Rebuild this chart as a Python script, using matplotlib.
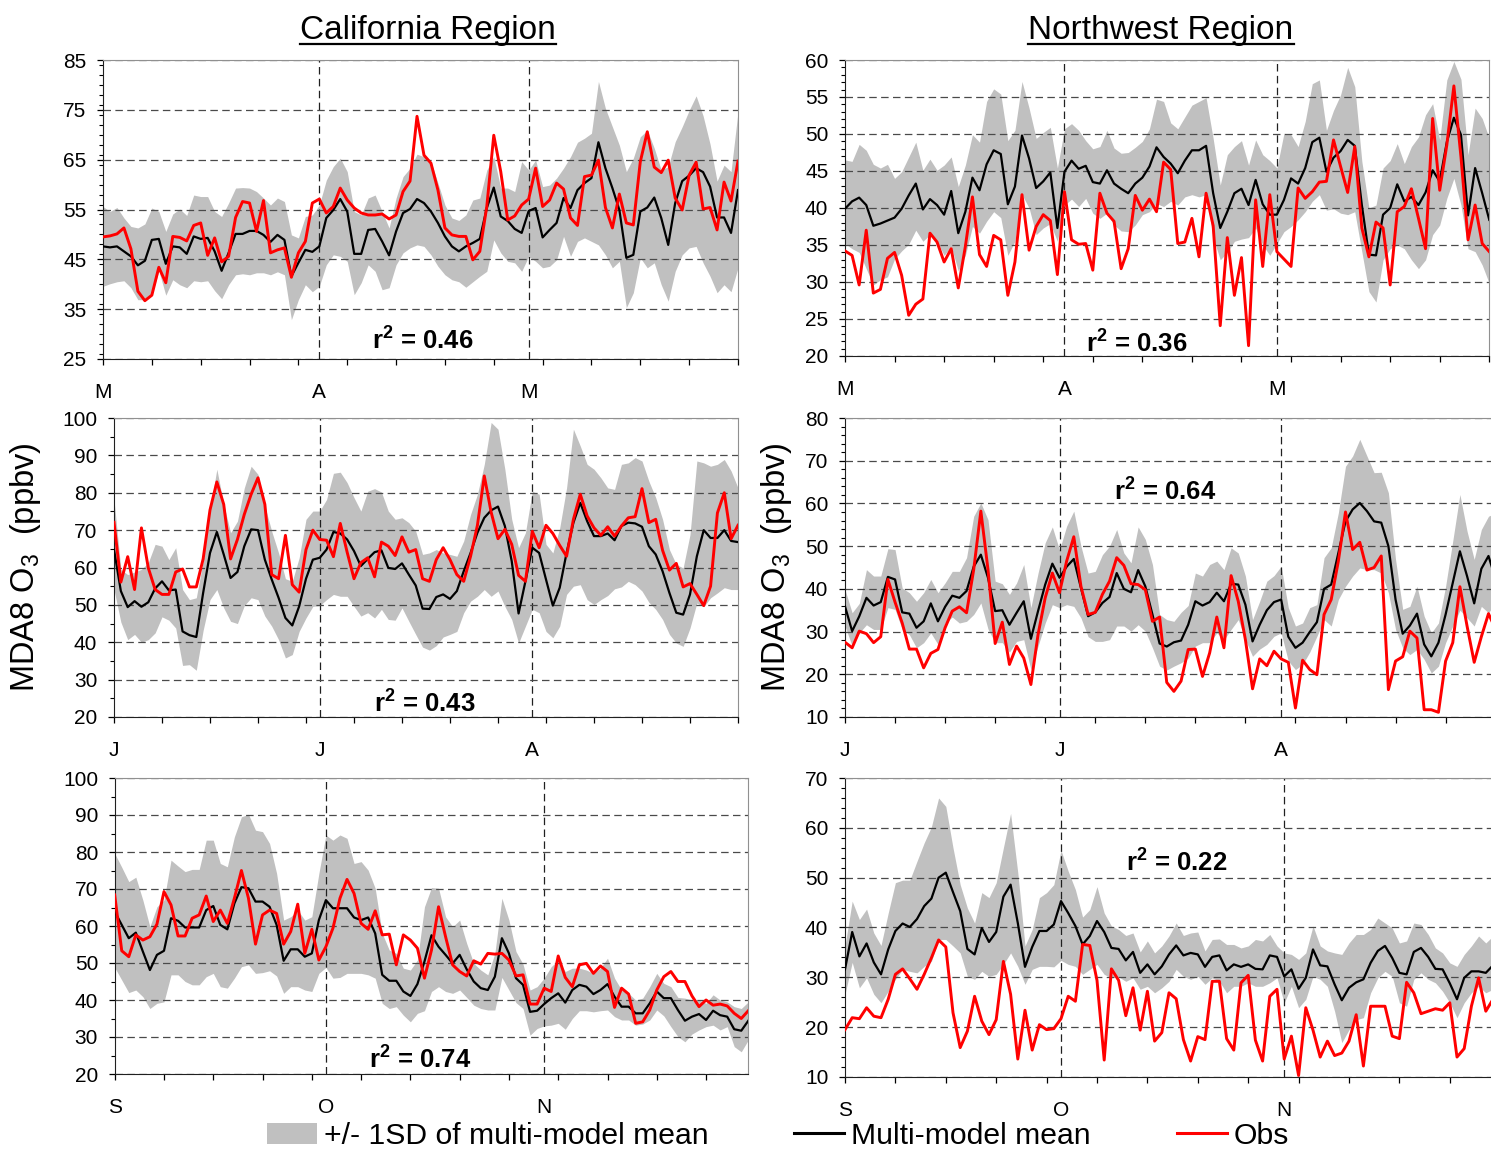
import matplotlib.pyplot as plt
import numpy as np
from matplotlib.lines import Line2D
from matplotlib.patches import Patch
from matplotlib.ticker import MultipleLocator

# daily MDA8 ozone (ppbv), multi-model mean, mean -/+ 1SD and observations

# California, Mar-May
ca_mam_mean = [47.6, 47.4, 47.6, 46.6, 45.6, 43.8, 44.7, 48.9, 49.1, 44.1, 47.6, 47.4, 46.1, 49.6, 49.1, 49.3,
               46.6, 42.7, 46.3, 50.1, 50.1, 50.7, 50.7, 49.9, 48.5, 49.9, 48.9, 41.6, 44.3, 46.9, 46.5, 47.6,
               53.3, 54.9, 57.1, 54.6, 46.1, 46.1, 50.9, 51.1, 48.6, 45.8, 50.6, 54.3, 55.1, 57.1, 56.3,
               54.6, 52.3, 49.6, 47.6, 46.6, 47.6, 48.3, 49.1, 55.3, 59.4, 53.6, 52.7, 51.1, 50.3, 54.7, 55.3,
               49.4, 50.9, 52.3, 57.3, 55.3, 58.9, 60.3, 61.3, 68.5, 63.3, 59.3, 54.9, 45.3, 45.9, 54.6, 55.4,
               57.4, 53.3, 47.9, 56.3, 60.7, 61.8, 63.3, 62.5, 59.6, 53.4, 53.4, 50.3, 58.9]
ca_mam_lo = [39.6, 40.1, 40.5, 40.7, 39.3, 36.9, 36.9, 37.9, 42.7, 37.8, 40.9, 39.9, 39.3, 40.7, 40.5, 40.7,
             38.7, 37.1, 39.9, 41.9, 42.1, 41.9, 42.3, 42.3, 41.9, 42.5, 41.9, 32.9, 36.9, 39.9, 38.5, 39.6,
             43.9, 45.9, 45.6, 44.6, 37.9, 40.3, 43.9, 42.6, 38.9, 39.3, 43.9, 46.3, 47.3, 47.9, 47.6,
             45.9, 43.6, 41.9, 40.9, 40.5, 39.4, 40.5, 41.6, 42.6, 48.9, 46.3, 44.6, 44.3, 42.6, 45.6, 44.6,
             43.3, 43.6, 44.9, 49.6, 45.6, 48.6, 49.3, 48.6, 47.9, 45.9, 43.3, 44.6, 35.3, 38.3, 45.3, 43.3,
             44.3, 39.9, 36.6, 42.6, 45.9, 47.3, 47.6, 44.3, 41.6, 38.3, 39.9, 38.5, 43.3]
ca_mam_hi = [55.6, 54.6, 55.4, 53.3, 51.6, 51.3, 52.1, 55.3, 54.6, 50.6, 54.1, 55.1, 53.8, 57.9, 57.6, 57.6,
             54.6, 53.6, 56.3, 59.3, 59.4, 59.3, 58.6, 57.3, 55.9, 57.3, 56.6, 49.9, 49.3, 53.6, 53.9, 55.9,
             60.9, 63.6, 65.3, 62.6, 54.6, 53.9, 57.3, 57.9, 54.6, 51.3, 57.3, 61.6, 63.3, 66.1, 65.6,
             64.6, 60.3, 55.9, 53.3, 52.8, 53.9, 56.9, 57.3, 62.9, 65.6, 59.3, 59.3, 58.6, 64.6, 62.9, 64.9,
             59.6, 59.9, 61.3, 63.3, 65.6, 68.5, 69.3, 70.3, 80.7, 75.3, 71.6, 67.9, 62.6, 65.3, 69.6, 70.9,
             67.3, 62.9, 63.6, 68.6, 71.6, 74.9, 77.8, 73.8, 68.1, 60.7, 63.9, 62.6, 74.6]
ca_mam_obs = [49.5, 49.7, 50.1, 51.3, 47.1, 38.6, 36.7, 37.8, 43.4, 40.3, 49.6, 49.4, 48.7, 51.8, 52.3, 45.8,
              49.3, 44.5, 45.6, 53.4, 56.6, 56.3, 50.6, 56.8, 46.3, 46.9, 47.3, 41.4, 46.3, 48.6, 56.3, 57.1,
              54.3, 55.6, 59.3, 56.9, 55.3, 54.3, 53.9, 53.9, 54.1, 53.1, 53.9, 58.6, 60.7, 73.7, 65.9,
              64.3, 58.9, 51.3, 49.9, 49.6, 49.6, 44.9, 46.6, 55.6, 69.9, 62.6, 52.9, 53.7, 55.9, 57.1, 63.3,
              55.6, 56.9, 60.3, 59.1, 53.3, 51.8, 61.6, 61.9, 64.9, 55.4, 51.3, 58.1, 52.3, 51.9, 64.6, 70.6,
              63.5, 62.4, 64.9, 57.3, 54.9, 61.9, 64.5, 55.1, 55.4, 50.9, 60.5, 56.7, 64.7]

# Northwest, Mar-May
nw_mam_mean = [39.9, 40.9, 41.4, 40.4, 37.6, 37.9, 38.3, 38.7, 39.9, 41.7, 43.3, 39.8, 41.2, 40.4, 39.1, 42.3,
               36.6, 39.5, 44.1, 42.4, 45.9, 47.8, 47.3, 40.5, 42.9, 49.8, 46.7, 42.7, 43.6, 44.8, 37.3, 44.9,
               46.4, 45.3, 45.7, 43.5, 43.3, 45.1, 43.3, 42.6, 42.0, 43.3, 44.1, 45.6, 48.2, 46.9, 46.0,
               44.7, 46.4, 47.8, 47.8, 48.4, 42.0, 37.3, 39.5, 42.0, 42.6, 40.4, 43.8, 40.5, 39.1, 39.1, 41.1,
               44.0, 43.3, 45.4, 48.9, 49.5, 44.9, 46.8, 47.7, 49.2, 48.4, 40.4, 33.7, 33.6, 39.1, 40.0, 43.2,
               40.9, 41.5, 40.4, 42.1, 45.1, 43.6, 48.9, 52.2, 49.9, 39.0, 45.4, 42.0, 38.4]
nw_mam_lo = [35.2, 34.5, 34.0, 31.8, 29.6, 30.3, 30.7, 33.1, 34.2, 35.1, 37.0, 35.5, 36.4, 35.5, 33.6, 34.8,
             31.5, 33.6, 37.5, 36.6, 38.2, 39.5, 38.7, 33.6, 35.5, 41.8, 40.0, 36.4, 37.3, 37.9, 35.5, 40.4,
             41.2, 40.2, 41.3, 39.3, 38.6, 39.3, 37.7, 36.9, 36.8, 37.7, 39.1, 39.5, 40.6, 40.2, 40.9,
             40.4, 41.5, 41.8, 41.5, 41.8, 36.0, 33.0, 34.0, 35.5, 35.8, 36.0, 37.3, 35.0, 33.6, 35.2, 36.8,
             37.5, 38.4, 39.5, 40.9, 41.8, 39.7, 39.9, 39.3, 39.1, 39.5, 34.1, 28.7, 27.3, 33.0, 34.5, 35.0,
             34.5, 33.0, 31.8, 33.0, 36.4, 37.7, 41.3, 44.0, 40.4, 34.5, 34.1, 32.3, 29.8]
nw_mam_hi = [46.5, 46.3, 48.6, 47.8, 45.9, 45.4, 45.9, 44.0, 44.9, 46.9, 48.9, 45.1, 46.6, 45.1, 45.8, 46.9,
             42.9, 45.8, 49.9, 48.9, 54.4, 56.1, 55.4, 49.1, 50.5, 57.1, 53.5, 49.4, 50.2, 50.9, 45.4, 50.7,
             51.4, 50.5, 49.1, 48.0, 48.3, 50.5, 48.1, 47.4, 47.5, 48.2, 49.0, 50.7, 54.7, 54.4, 51.5,
             50.7, 52.3, 53.9, 54.4, 54.9, 49.4, 43.1, 47.2, 48.3, 49.1, 45.8, 49.2, 47.2, 46.4, 45.4, 50.1,
             49.9, 48.3, 51.7, 56.8, 57.3, 50.5, 53.2, 55.3, 59.0, 56.4, 46.3, 40.0, 40.4, 45.4, 46.4, 48.7,
             46.0, 48.3, 49.6, 52.6, 54.1, 49.2, 57.3, 59.8, 57.4, 47.2, 53.5, 52.1, 49.4]
nw_mam_obs = [34.2, 33.6, 29.6, 37.0, 28.5, 29.0, 33.2, 34.0, 30.9, 25.5, 27.0, 27.7, 36.6, 35.4, 32.7, 34.5,
              29.2, 34.8, 41.5, 33.7, 32.1, 36.3, 35.7, 28.2, 32.7, 41.8, 34.3, 37.5, 39.1, 38.3, 31.0, 42.2,
              35.7, 35.1, 35.2, 31.6, 42.0, 39.3, 38.2, 31.8, 34.5, 41.7, 39.7, 41.2, 39.5, 46.2, 45.2,
              35.2, 35.4, 38.6, 33.4, 42.0, 37.6, 24.1, 36.0, 28.2, 33.3, 21.4, 41.1, 32.1, 41.8, 34.1, 33.1,
              32.1, 42.7, 41.3, 42.2, 43.5, 43.6, 49.2, 45.6, 42.1, 48.3, 37.3, 33.4, 38.1, 37.3, 29.6, 39.5,
              40.2, 42.6, 38.6, 34.5, 52.1, 42.4, 48.5, 56.5, 46.9, 35.7, 40.4, 35.2, 34.1]

# California, Jun-Aug
ca_jja_mean = [64.8, 53.7, 49.4, 51.0, 49.5, 50.7, 54.4, 56.3, 53.9, 54.1, 42.9, 41.9, 41.4, 53.2, 63.9, 69.5,
               63.5, 57.2, 58.8, 65.7, 70.2, 70.0, 62.1, 56.8, 51.9, 46.5, 44.5, 49.6, 57.0, 62.1, 62.6, 64.8,
               69.5, 69.1, 67.5, 64.4, 60.4, 62.3, 64.1, 64.6, 59.9, 59.6, 61.1, 58.1, 55.2, 49.0,
               48.9, 52.1, 52.8, 51.6, 53.7, 59.0, 63.9, 69.3, 73.3, 75.3, 76.3, 71.1, 61.7, 47.7, 56.3, 65.3,
               63.9, 56.8, 49.8, 54.6, 63.9, 72.0, 77.3, 72.4, 68.4, 68.4, 69.1, 67.3, 71.1, 72.0, 71.8, 70.9,
               65.7, 63.5, 59.0, 53.2, 47.9, 47.4, 52.8, 63.0, 70.0, 67.9, 67.9, 70.0, 67.1, 66.8]
ca_jja_lo = [54.1, 45.4, 40.7, 42.1, 40.0, 40.7, 42.5, 46.8, 45.9, 43.8, 33.8, 34.0, 32.5, 43.2, 51.4, 54.1,
             49.2, 45.6, 45.0, 49.8, 51.9, 51.4, 47.0, 44.3, 40.7, 35.8, 36.7, 42.9, 46.5, 49.6, 49.8, 51.4,
             52.8, 52.3, 52.3, 49.6, 47.0, 47.9, 46.5, 48.8, 46.1, 45.9, 49.2, 45.6, 42.1, 38.7,
             37.9, 39.1, 41.4, 42.1, 42.9, 47.9, 51.0, 52.3, 54.1, 52.3, 53.7, 49.6, 46.1, 39.8, 44.3, 48.8,
             47.9, 42.9, 41.2, 44.3, 52.8, 55.0, 55.4, 51.4, 50.1, 51.4, 52.5, 54.3, 54.8, 56.3, 55.4, 53.7,
             50.7, 48.8, 46.1, 42.1, 39.8, 38.9, 43.8, 50.5, 49.5, 51.9, 53.2, 54.6, 54.1, 54.1]
ca_jja_hi = [78.2, 59.5, 58.1, 58.8, 59.5, 61.3, 66.2, 65.7, 62.1, 65.3, 54.1, 51.4, 51.9, 61.7, 75.5, 86.3,
             76.9, 69.3, 72.4, 81.3, 87.1, 84.9, 76.4, 69.7, 63.9, 57.0, 56.3, 62.6, 72.9, 75.1, 75.1, 78.2,
             85.2, 85.5, 82.7, 78.7, 75.1, 80.4, 81.1, 80.2, 75.1, 72.9, 73.3, 72.0, 69.7, 63.5,
             63.9, 64.8, 63.9, 63.5, 63.0, 67.1, 74.2, 79.6, 87.6, 98.8, 97.0, 86.3, 72.9, 65.3, 69.3, 80.4,
             79.6, 66.2, 63.9, 70.6, 81.3, 97.0, 92.5, 87.6, 86.3, 84.0, 81.3, 80.9, 87.6, 88.0, 89.4, 88.5,
             83.1, 78.7, 72.9, 64.8, 60.8, 59.9, 68.8, 88.5, 88.0, 87.1, 87.6, 88.9, 85.8, 81.3]
ca_jja_obs = [72.1, 56.1, 62.9, 54.1, 70.6, 59.9, 54.1, 52.8, 52.8, 58.8, 59.6, 54.8, 54.8, 62.3, 75.4, 82.9,
              76.9, 62.3, 67.5, 74.2, 79.6, 84.0, 76.9, 58.1, 57.0, 68.6, 55.4, 53.4, 64.8, 70.0, 67.5, 67.3,
              62.9, 71.8, 64.1, 57.0, 61.3, 62.6, 57.5, 66.8, 65.7, 63.2, 68.2, 64.1, 64.8, 57.0,
              56.3, 62.1, 65.3, 62.1, 58.1, 56.3, 63.0, 71.3, 84.5, 74.8, 67.7, 70.2, 66.2, 57.9, 56.3, 69.7,
              65.3, 71.3, 69.1, 65.9, 63.0, 72.9, 79.6, 73.8, 70.6, 68.6, 70.9, 68.4, 71.1, 73.3, 73.6, 81.1,
              72.0, 72.9, 64.6, 59.3, 61.1, 54.8, 55.7, 52.8, 49.8, 55.0, 74.6, 80.0, 67.7, 71.3]

# Northwest, Jun-Aug
nw_jja_mean = [35.9, 30.1, 33.6, 37.9, 36.1, 36.9, 42.8, 42.2, 34.5, 34.2, 30.9, 32.4, 36.6, 32.4, 35.8, 38.4,
               37.9, 39.5, 45.2, 48.0, 42.6, 34.8, 35.0, 31.6, 34.4, 37.1, 28.3, 34.8, 41.0, 45.9, 42.6, 45.2,
               47.0, 40.2, 33.6, 34.5, 36.7, 38.1, 43.7, 40.0, 39.2, 44.4, 40.6, 34.0, 27.2, 26.5,
               27.5, 27.9, 31.6, 37.1, 36.1, 36.9, 39.1, 37.1, 41.2, 41.0, 36.3, 27.7, 31.6, 35.0, 36.9, 37.5,
               28.8, 26.2, 27.4, 29.9, 32.2, 40.0, 41.0, 48.4, 55.8, 58.6, 60.1, 58.2, 55.8, 55.5, 50.0, 37.5,
               29.5, 31.4, 34.2, 27.0, 24.2, 27.4, 34.0, 41.4, 48.8, 43.0, 36.6, 44.7, 47.7, 42.2]
nw_jja_lo = [31.3, 26.6, 29.7, 31.6, 30.5, 30.5, 35.6, 35.2, 30.5, 29.3, 26.2, 27.4, 29.7, 27.0, 32.0, 33.4,
             32.0, 32.4, 34.0, 36.7, 30.6, 27.4, 27.4, 25.2, 27.7, 28.1, 21.1, 26.6, 32.0, 36.3, 35.6, 36.3,
             35.9, 33.2, 28.8, 27.7, 27.7, 28.1, 31.3, 31.3, 30.1, 31.6, 30.1, 26.2, 21.9, 21.0,
             21.9, 22.7, 23.8, 26.6, 27.4, 27.4, 29.7, 28.1, 30.5, 32.8, 28.1, 24.2, 25.9, 27.0, 28.9, 29.7,
             23.1, 21.1, 22.3, 25.2, 28.9, 32.8, 31.3, 37.5, 40.6, 43.0, 44.9, 44.5, 44.5, 43.7, 39.1, 30.5,
             26.2, 24.6, 25.8, 23.5, 20.3, 21.9, 27.4, 31.3, 35.0, 33.2, 31.3, 35.9, 34.4, 36.7]
nw_jja_hi = [39.8, 34.4, 36.6, 44.5, 43.0, 43.0, 49.4, 49.2, 40.2, 39.1, 37.1, 39.1, 42.2, 39.1, 41.4, 44.1,
             44.1, 47.3, 57.0, 60.1, 56.2, 41.8, 41.2, 38.7, 41.4, 45.7, 35.6, 43.7, 50.8, 54.5, 49.1, 54.7,
             58.2, 50.0, 43.7, 44.1, 48.0, 50.0, 53.9, 48.4, 46.1, 54.5, 51.6, 45.7, 34.0, 32.8,
             32.4, 34.5, 36.1, 43.7, 43.0, 45.7, 46.5, 44.5, 49.6, 48.4, 43.0, 32.8, 37.1, 41.8, 43.1, 45.3,
             35.6, 31.3, 32.0, 35.6, 36.3, 47.3, 49.6, 57.8, 68.7, 71.1, 75.0, 71.1, 67.2, 67.3, 62.5, 46.9,
             35.2, 35.9, 40.6, 33.6, 29.7, 32.0, 40.6, 51.2, 62.1, 53.5, 46.9, 53.9, 57.0, 57.8]
nw_jja_obs = [27.5, 26.2, 30.1, 29.5, 27.4, 28.8, 42.2, 36.9, 32.0, 25.9, 25.9, 21.5, 24.9, 25.8, 30.9, 34.8,
              35.8, 34.4, 44.5, 58.2, 44.5, 27.2, 32.2, 22.3, 26.6, 23.8, 17.6, 29.3, 37.9, 43.7, 39.1, 46.5,
              52.2, 40.6, 34.0, 34.5, 38.7, 41.8, 47.3, 45.5, 41.2, 41.0, 39.8, 32.4, 33.4, 18.1,
              16.0, 18.4, 25.8, 25.9, 19.5, 25.0, 33.4, 26.2, 43.1, 37.1, 28.1, 16.6, 23.6, 22.0, 25.4, 23.6,
              22.8, 12.1, 23.3, 21.1, 19.9, 34.0, 37.5, 46.5, 58.0, 49.2, 50.9, 44.4, 45.0, 47.7, 16.4, 23.1,
              24.1, 30.1, 28.5, 11.7, 11.7, 11.1, 23.1, 27.4, 40.5, 31.3, 22.8, 28.8, 34.2, 30.5]

# California, Sep-Nov
ca_son_mean = [63.9, 60.3, 56.7, 58.2, 53.1, 48.1, 52.2, 53.3, 62.1, 61.4, 59.6, 59.6, 59.6, 64.3, 65.4, 60.3,
               59.1, 66.1, 70.5, 70.2, 66.6, 66.6, 65.2, 60.3, 50.6, 53.7, 53.7, 51.7, 52.6, 61.6, 67.0, 64.8,
               64.8, 64.8, 62.3, 61.6, 62.3, 58.0, 46.8, 45.2, 45.2, 42.3, 41.1, 44.3, 50.4, 57.5,
               54.4, 52.2, 49.9, 52.2, 48.3, 45.0, 43.2, 42.7, 46.3, 56.7, 52.6, 45.9, 44.1, 36.8, 37.1, 38.9,
               40.5, 41.8, 39.3, 42.7, 44.1, 43.6, 41.6, 42.7, 44.3, 40.9, 38.2, 38.2, 36.4, 36.4, 39.1, 42.3,
               40.5, 40.5, 37.3, 34.4, 35.5, 36.2, 34.6, 37.1, 35.9, 35.5, 32.1, 31.7, 34.4]
ca_son_lo = [48.8, 45.4, 42.0, 42.7, 40.9, 37.7, 39.1, 39.5, 46.8, 46.8, 45.0, 44.1, 44.1, 46.3, 47.2, 43.6,
             43.2, 45.9, 49.0, 49.5, 47.2, 47.4, 47.9, 46.5, 41.8, 43.6, 43.6, 42.7, 42.3, 47.2, 48.8, 45.9,
             46.1, 47.2, 47.2, 47.2, 46.8, 45.9, 39.1, 37.7, 38.2, 35.9, 34.1, 36.4, 37.1, 42.3,
             43.6, 42.3, 41.8, 42.7, 40.7, 38.6, 37.7, 37.3, 37.3, 46.1, 42.7, 39.3, 37.7, 30.5, 32.3, 33.0,
             33.2, 33.7, 32.1, 35.0, 37.1, 37.1, 36.8, 37.1, 37.3, 35.5, 34.6, 34.6, 33.2, 33.5, 34.6, 37.3,
             35.7, 32.8, 30.1, 28.7, 30.8, 31.9, 32.8, 33.2, 31.9, 32.8, 27.4, 26.0, 29.2]
ca_son_hi = [79.6, 75.9, 72.0, 73.2, 67.0, 59.8, 65.2, 67.0, 77.8, 76.2, 74.7, 75.3, 75.3, 83.2, 83.2, 76.9,
             76.0, 84.1, 89.5, 90.2, 85.9, 85.5, 82.3, 74.2, 61.6, 62.5, 64.3, 61.6, 62.5, 74.2, 84.6, 83.2,
             84.6, 83.7, 76.9, 77.4, 75.1, 70.2, 58.0, 53.5, 52.6, 48.6, 48.1, 50.8, 65.2, 70.4,
             70.2, 62.5, 59.8, 61.6, 55.3, 49.9, 48.1, 46.8, 52.6, 67.5, 61.6, 53.1, 49.7, 42.7, 43.6, 45.9,
             49.0, 50.8, 47.7, 48.6, 48.6, 48.1, 47.2, 48.6, 51.3, 45.9, 42.7, 41.8, 40.0, 40.5, 43.6, 47.2,
             44.5, 43.6, 40.7, 40.5, 40.0, 40.0, 39.1, 41.4, 40.0, 39.5, 38.2, 37.7, 39.5]
ca_son_obs = [68.4, 53.3, 51.7, 57.6, 56.2, 57.1, 60.5, 69.3, 65.7, 57.3, 57.3, 62.1, 63.0, 68.1, 61.2, 64.3,
              60.7, 67.5, 75.0, 67.5, 55.1, 63.0, 64.3, 63.4, 55.1, 58.5, 65.9, 52.6, 59.1, 50.8, 54.4, 59.4,
              67.5, 72.6, 68.8, 60.7, 59.1, 64.1, 57.6, 57.8, 49.5, 57.6, 56.2, 54.0, 45.9, 53.5,
              65.2, 57.1, 49.5, 47.7, 46.5, 50.6, 49.7, 52.6, 52.4, 52.6, 50.8, 46.5, 46.8, 38.9, 38.9, 43.2,
              42.3, 51.9, 46.1, 43.6, 49.5, 49.9, 47.2, 49.2, 47.7, 38.0, 43.2, 41.6, 33.7, 34.1, 37.3, 42.7,
              46.3, 47.7, 45.0, 45.0, 41.1, 38.2, 40.0, 38.6, 38.9, 38.4, 36.4, 35.0, 37.1]

# Northwest, Sep-Nov
nw_son_mean = [31.6, 39.1, 34.2, 36.8, 33.0, 30.6, 35.6, 39.3, 40.8, 40.1, 41.7, 44.3, 45.8, 50.0, 51.0, 47.1,
               43.3, 35.7, 34.6, 39.9, 37.1, 39.1, 46.2, 48.6, 40.9, 32.1, 36.1, 39.3, 39.3, 40.6, 45.3, 42.9,
               40.3, 36.6, 38.3, 41.3, 39.1, 35.9, 35.7, 33.4, 35.1, 30.9, 32.6, 30.6, 32.2, 34.6,
               36.4, 34.4, 34.9, 34.6, 32.1, 34.1, 34.4, 31.4, 32.6, 32.1, 32.6, 31.7, 31.6, 34.4, 34.1, 30.2,
               31.6, 27.7, 29.9, 35.6, 32.4, 32.2, 28.6, 25.4, 27.9, 29.0, 29.6, 32.9, 35.3, 36.3, 33.9, 30.9,
               30.6, 35.1, 35.9, 34.1, 31.7, 31.6, 28.8, 25.6, 29.9, 31.2, 31.2, 30.9, 32.4]
nw_son_lo = [26.6, 33.0, 27.9, 29.9, 26.6, 24.9, 27.2, 29.6, 31.6, 31.2, 30.9, 32.2, 33.2, 37.6, 37.6, 36.3,
             34.9, 30.2, 29.6, 31.2, 30.2, 30.6, 32.6, 34.9, 32.2, 28.6, 31.6, 32.2, 32.2, 32.1, 33.4, 32.6,
             32.2, 30.6, 31.6, 32.6, 30.6, 29.9, 30.1, 29.2, 29.9, 27.6, 28.2, 26.9, 27.9, 29.2,
             31.6, 30.2, 29.6, 30.2, 28.6, 29.9, 29.2, 26.9, 28.2, 28.2, 28.9, 28.2, 28.2, 28.9, 29.9, 24.9,
             28.2, 23.9, 25.6, 30.2, 29.6, 28.2, 23.2, 16.9, 19.5, 21.5, 21.9, 26.9, 29.9, 31.2, 30.2, 24.9,
             24.2, 29.6, 30.9, 29.6, 28.9, 27.2, 24.9, 21.9, 24.9, 26.9, 28.2, 26.9, 27.6]
nw_son_hi = [36.3, 45.3, 41.6, 43.7, 38.9, 36.4, 42.9, 49.0, 49.5, 49.5, 53.3, 57.0, 60.2, 66.0, 64.3, 56.0,
             48.6, 43.9, 40.9, 47.0, 46.0, 49.0, 56.0, 62.9, 51.0, 36.3, 39.6, 46.0, 47.0, 48.6, 55.5, 51.3,
             47.6, 42.1, 43.6, 48.2, 42.9, 40.3, 39.6, 38.4, 38.9, 35.1, 37.3, 34.9, 36.3, 38.3,
             40.9, 38.4, 38.9, 39.1, 35.3, 37.6, 37.7, 36.6, 36.6, 35.9, 36.3, 37.6, 37.3, 38.6, 36.3, 34.9,
             34.6, 33.6, 34.9, 40.3, 36.3, 35.3, 34.9, 34.6, 36.9, 38.6, 38.6, 39.6, 41.9, 40.9, 39.9, 36.9,
             37.3, 40.9, 40.6, 38.6, 35.9, 34.9, 32.9, 32.2, 34.6, 36.3, 38.3, 36.9, 38.3]
nw_son_obs = [19.5, 21.9, 21.7, 23.9, 22.2, 21.9, 25.6, 30.6, 31.7, 29.7, 27.6, 30.6, 33.9, 37.5, 36.1, 22.9,
              15.9, 19.2, 26.2, 21.2, 18.5, 21.5, 33.2, 26.6, 13.6, 23.4, 15.4, 20.5, 19.5, 19.7, 21.7, 26.2,
              25.2, 36.6, 36.4, 29.4, 13.4, 31.7, 29.4, 22.3, 27.9, 19.4, 27.2, 17.2, 18.9, 26.9,
              25.7, 17.5, 13.2, 18.1, 17.5, 29.2, 29.2, 17.7, 15.4, 28.9, 30.4, 17.4, 13.2, 26.2, 27.6, 13.6,
              18.2, 10.3, 23.9, 19.4, 14.0, 17.2, 14.3, 14.8, 17.2, 22.5, 12.2, 24.2, 24.2, 24.2, 18.2, 17.7,
              29.0, 26.9, 22.7, 23.2, 23.7, 23.4, 24.9, 14.0, 15.7, 24.2, 29.9, 23.2, 25.6]

r2_values = ["0.46", "0.36", "0.43", "0.64", "0.74", "0.22"]

# month labels and the day index where each month starts
mam_months = (["M", "A", "M"], [0, 31, 61])
jja_months = (["J", "J", "A"], [0, 30, 61])
son_months = (["S", "O", "N"], [0, 30, 61])

plt.rcParams["font.family"] = ["Liberation Sans", "DejaVu Sans"]
plt.rcParams["mathtext.fontset"] = "custom"
plt.rcParams["mathtext.rm"] = "Liberation Sans"
plt.rcParams["mathtext.it"] = "Liberation Sans:italic"
plt.rcParams["mathtext.bf"] = "Liberation Sans:bold"

W, H = 1491, 1149
fig = plt.figure(figsize=(W / 100, H / 100), dpi=100)


def px_rect(x0, y0, x1, y1):
    return [x0 / W, 1 - y1 / H, (x1 - x0) / W, (y1 - y0) / H]


def panel(rect, mean, lo, hi, obs, ylim, ystep, yminor, months, r2, r2_xy):
    ax = fig.add_axes(rect)
    days = np.arange(len(mean))
    ax.fill_between(days, lo, hi, color="#c0c0c0", lw=0, zorder=1)
    ax.plot(days, mean, color="black", lw=1.6, zorder=3)
    ax.plot(days, obs, color="#ff0000", lw=2.1, zorder=4)

    ax.set_xlim(0, len(mean) - 1)
    ax.set_ylim(*ylim)
    ax.set_yticks(np.arange(ylim[0], ylim[1] + 1, ystep))
    ax.yaxis.set_minor_locator(MultipleLocator(yminor))
    names, starts = months
    ax.set_xticks(starts)
    ax.set_xticklabels(names)
    ax.xaxis.set_minor_locator(MultipleLocator(7))
    ax.xaxis.remove_overlapping_locs = False

    ax.tick_params(axis="x", which="major", length=0, pad=17, labelsize=15)
    ax.tick_params(axis="x", which="minor", length=4, width=0.9, direction="out")
    ax.tick_params(axis="y", which="major", length=4, width=0.9, pad=8, labelsize=15)
    ax.tick_params(axis="y", which="minor", length=3, width=0.8)

    ax.set_axisbelow("line")
    ax.yaxis.grid(True, which="major", color="#4a4a4a", ls=(0, (6, 3.5)), lw=0.9)
    for m in starts[1:]:
        ax.axvline(m, color="#202020", ls=(0, (6, 3.5)), lw=0.9, zorder=1.5)

    for side in ["top", "right"]:
        ax.spines[side].set_color("#909090")
    for side in ["left", "bottom"]:
        ax.spines[side].set_color("#202020")

    ax.text(r2_xy[0], r2_xy[1], "r$^{\\mathbf{2}}$ = " + r2, fontsize=18.5, fontweight="bold",
            ha="center", va="center", zorder=5)
    return ax


panel(px_rect(103, 60, 738, 359), ca_mam_mean, ca_mam_lo, ca_mam_hi, ca_mam_obs,
      (25, 85), 10, 2, mam_months, r2_values[0], (45.8, 28.6))
panel(px_rect(845, 60, 845 + 91 * 7.08, 356), nw_mam_mean, nw_mam_lo, nw_mam_hi, nw_mam_obs,
      (20, 60), 5, 1, mam_months, r2_values[1], (41.2, 21.6))
panel(px_rect(114, 418, 738, 717), ca_jja_mean, ca_jja_lo, ca_jja_hi, ca_jja_obs,
      (20, 100), 10, 5, jja_months, r2_values[2], (45.3, 23.6))
panel(px_rect(845, 418, 845 + 91 * 7.15, 717), nw_jja_mean, nw_jja_lo, nw_jja_hi, nw_jja_obs,
      (10, 80), 10, 2, jja_months, r2_values[3], (44.8, 62.7))
panel(px_rect(114.7, 778, 748.3, 1074), ca_son_mean, ca_son_lo, ca_son_hi, ca_son_obs,
      (20, 100), 10, 5, son_months, r2_values[4], (43.4, 23.9))
panel(px_rect(845, 778, 845 + 90 * 7.2, 1077), nw_son_mean, nw_son_lo, nw_son_hi, nw_son_obs,
      (10, 70), 10, 2, son_months, r2_values[5], (46.1, 53.0))

# region titles, underlined
titles = []
for x, name in [(428, "California Region"), (1161, "Northwest Region")]:
    titles.append(fig.text(x / W, 1 - 39.5 / H, name, fontsize=24, ha="center", va="baseline"))
renderer = fig.canvas.get_renderer()
for t in titles:
    bb = t.get_window_extent(renderer)
    yl = 1 - 43.5 / H
    fig.add_artist(Line2D([bb.x0 / W, bb.x1 / W], [yl, yl], color="black", lw=1.6,
                          transform=fig.transFigure))

for x in [26, 776]:
    fig.text(x / W, 1 - 567 / H, "MDA8 O$_3$  (ppbv)", fontsize=23.5, rotation=90,
             ha="center", va="center")

handles = [Patch(facecolor="#c0c0c0", edgecolor="none"),
           Line2D([], [], color="black", lw=2.2),
           Line2D([], [], color="#ff0000", lw=2.2)]
fig.legend(handles, ["+/- 1SD of multi-model mean", "Multi-model mean", "Obs"],
           loc="center", bbox_to_anchor=(778 / W, 1 - 1136 / H), ncol=3, frameon=False,
           fontsize=21.7, handlelength=1.66, handletextpad=0.23, columnspacing=2.86,
           borderpad=0, borderaxespad=0)

fig.savefig("out.png", dpi=100)
